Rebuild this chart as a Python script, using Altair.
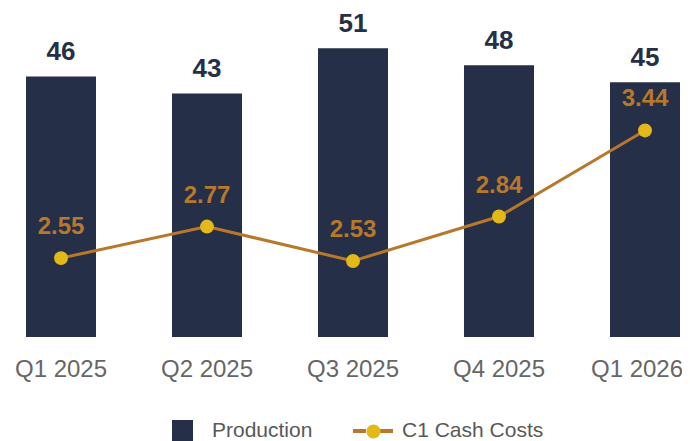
import altair as alt
import pandas as pd

quarters = ["Q1 2025", "Q2 2025", "Q3 2025", "Q4 2025", "Q1 2026"]
production = [46, 43, 51, 48, 45]
c1_costs = [2.55, 2.77, 2.53, 2.84, 3.44]
prod_labels = ["46", "43", "51", "48", "45"]
cost_labels = ["2.55", "2.77", "2.53", "2.84", "3.44"]
series_names = ["Production", "C1 Cash Costs"]
marker_name = "C1 marker"

NAVY = "#252F47"
BROWN = "#B7782B"
GOLD = "#E3B819"
GRAY = "#666666"
FONT = "Liberation Sans"

df = pd.DataFrame({
    "quarter": quarters,
    "production": production,
    "cost": c1_costs,
    "prod_label": prod_labels,
    "cost_label": cost_labels,
})
df["s_prod"] = series_names[0]
df["s_line"] = series_names[1]
df["s_dot"] = marker_name

x = alt.X(
    "quarter:N", sort=quarters, title=None,
    scale=alt.Scale(paddingInner=0.5205, paddingOuter=0.0137),
    axis=alt.Axis(labelAngle=0, domain=False, ticks=False, grid=False,
                  labelFont=FONT, labelFontSize=24, labelColor=GRAY,
                  labelPadding=20,
                  labelOffset=alt.condition(f"datum.value == '{quarters[-1]}'",
                                            alt.value(-8), alt.value(0))),
)
y_prod = alt.Y("production:Q", scale=alt.Scale(domain=[0, 56], nice=False, zero=True), axis=None)
y_cost = alt.Y("cost:Q", scale=alt.Scale(domain=[2.0, 4.21], nice=False, zero=False), axis=None)

legend_common = dict(orient="none", title=None, padding=0, labelFont=FONT,
                     labelFontSize=21, labelColor="#595959")

base = alt.Chart(df)

bars = base.mark_bar().encode(
    x=x, y=y_prod,
    color=alt.Color("s_prod:N",
                    scale=alt.Scale(domain=[series_names[0]], range=[NAVY]),
                    legend=alt.Legend(legendX=148, legendY=400, symbolType="square",
                                      symbolSize=441, symbolStrokeWidth=0,
                                      labelOffset=19, **legend_common)),
)
bar_text = base.mark_text(dy=-16.6, baseline="alphabetic", fontSize=26,
                          fontWeight="bold", font=FONT, color=NAVY).encode(
    x=x, y=y_prod, text="prod_label:N")

line = base.mark_line(strokeWidth=3).encode(
    x=x, y=y_cost,
    stroke=alt.Stroke("s_line:N",
                      scale=alt.Scale(domain=[series_names[1]], range=[BROWN]),
                      legend=alt.Legend(legendX=327, legendY=389,
                                        symbolType="M-1,0L-0.35,0M0.35,0L1,0",
                                        symbolSize=1600, symbolStrokeWidth=4,
                                        labelOffset=7, **legend_common)),
)
dots = base.mark_circle(size=194, opacity=1).encode(
    x=x, y=y_cost,
    fill=alt.Fill("s_dot:N",
                  scale=alt.Scale(domain=[marker_name], range=[GOLD]),
                  legend=alt.Legend(legendX=339, legendY=401, symbolType="circle",
                                    symbolSize=200, symbolStrokeWidth=0,
                                    labelExpr="''", zindex=2, **legend_common)),
)
cost_text = base.mark_text(dy=-24, baseline="alphabetic", fontSize=24,
                           fontWeight="bold", font=FONT, color=BROWN).encode(
    x=x, y=y_cost, text="cost_label:N")

chart = alt.layer(
    alt.layer(bars, bar_text),
    alt.layer(line, dots, cost_text),
).resolve_scale(y="independent", color="independent", fill="independent",
                stroke="independent").properties(
    width=658, height=317,
    autosize=alt.AutoSizeParams(type="none"),
    padding={"left": 16, "top": 12, "right": 0, "bottom": 104},
).configure_view(stroke=None)

chart.save("out.html", embed_options={"renderer": "svg", "actions": False})
